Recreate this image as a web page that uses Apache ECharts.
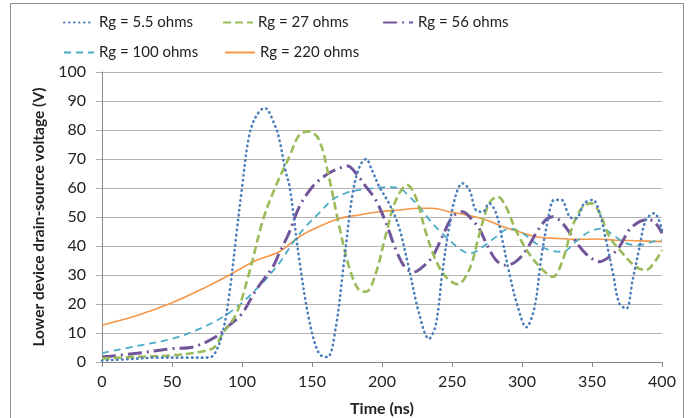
<!DOCTYPE html>
<html><head><meta charset="utf-8">
<script src="https://cdn.jsdelivr.net/npm/echarts@6/dist/echarts.min.js"></script>
<style>html,body{margin:0;padding:0;background:#fff}#c{width:693px;height:418px}</style>
</head><body><div id="c"></div>
<script>
var seriesNames = ['Rg = 5.5 ohms','Rg = 27 ohms','Rg = 56 ohms','Rg = 100 ohms','Rg = 220 ohms'];
var xTicks = [0,50,100,150,200,250,300,350,400];
var yTicks = [0,10,20,30,40,50,60,70,80,90,100];

var t55 = [0,20,40,60,75,80,86,91,96,100,105,110,116,124,127,131,134,141,148,155,161,167,173,179,184,188.5,193,198,205,212,219,226.5,233.5,238.5,243,248,253,257.5,262.5,267,272,276.5,281.5,286,291,297,303,309,313.5,318.5,323,328,334,338.5,344.5,350.5,355.5,360,365,369.5,374.5,379,384,388.5,394.5,400];
var v55 = [0.5,1,1.5,1.5,1.5,2.5,9.8,23.6,44,60,77.8,84.7,87.6,81,76,66,60.5,35,14.4,2.9,1.7,12,35,58,67.4,70,66,60.5,54.7,46.7,32.8,16.7,8,13,30.5,46.7,58,61.6,59.3,52.4,51.8,54.7,51.3,42,30.5,19,12,19,35,49,55.9,55.9,50.1,49.5,54.7,55.9,51.3,42,30.5,20.2,18.4,28.2,39.7,49,51.3,45.5];

var t27 = [0,25,50,70,80,86,96,105,115,124,134,141,148,155,162,169.5,176.5,183.5,188.5,195.5,203,210,218,224,231.5,238.5,245.5,254,262.5,269.5,276.5,282.5,288.5,295.5,305,315,322,329,336,343.5,349.5,355.5,362.5,372,381.5,388.5,395.5,400];
var v27 = [1.2,1.8,2.3,3.5,5,9.6,16.7,30.5,49,60.5,71,78.3,79.5,76.6,64,46.7,32.8,24.8,24.2,30.5,44.4,55.9,61,57,44.4,35,29.4,26.8,32,44,54.7,57,53.6,45.5,37.4,31.7,29.4,35,46.7,53.6,54.7,51.3,43.2,37.4,32.8,31.7,35,38.6];

var t56 = [0,25,50,65,81,91,100,110,122,126.5,133.5,141,150.5,160,169.5,175.5,181.5,188.5,195.5,203,210,217,223,229,236,243,250.5,257.5,264.5,270,274.5,281.5,288.5,295.5,303,310,317,322,329,336,345.5,355.5,362.5,369.5,376.5,384,391,395.5,400];
var v56 = [1.7,3,4.6,5.2,8.6,12.7,16.7,24.8,32.8,37.4,44.4,53.6,60.5,64.5,66.8,67.6,65,60.5,55.9,47.8,38.6,32.3,31.1,32.8,36.3,43.2,50.1,51.8,49,45.5,40.9,35.1,33.4,34.6,38.6,44.4,49,50.1,47.8,43.2,37.4,34.6,36.3,39.7,45.5,48.4,49,47.8,44.4];

var t100 = [0,25,50,70,91,110,126.5,136,145.5,155,164.5,174,183.5,193.5,203,212.5,219.5,226.5,236,245.5,255,262.5,272,281.5,291,300.5,310,319.5,329,338.5,348,357.5,365,374.5,384,393.5,400];
var v100 = [3.1,5.5,8,11.5,17,25,34,40.9,46.7,51.3,55.9,58.2,59.3,59.9,60.3,59.9,57,53.6,47.8,43.2,39.2,37.4,39.7,43.2,46,44.4,40.9,38.6,38,41.5,44.9,46,43.8,40.9,40.3,41.5,42];

var t220 = [0,25,50,75,91,110,126.5,141,155,169.5,183.5,198,212.5,226.5,236,248,260,274.5,286,298,310,324.5,338.5,353,367,381.5,400];
var v220 = [12.7,16,20.4,26,30,35,38,43.2,46.7,49.5,50.7,51.8,52.4,53,53,51.8,50.7,49,46.7,44.9,43.2,42.6,42.3,42.4,42,41.8,41.5];

function zip(a,b){return a.map(function(x,i){return [x,b[i]];});}
var allT=[t55,t27,t56,t100,t220], allV=[v55,v27,v56,v100,v220];
var colors=['#4a7ebb','#9bbb59','#71559b','#4bacc6','#f79646'];
var styles=[
 {width:2.6,type:[0.5,4.5],cap:'round'},
 {width:2.6,type:[8,4]},
 {width:3,type:[14,5,2,5]},
 {width:1.8,type:[7,5]},
 {width:1.6,type:'solid'}
];
var FONT='Lato';
var series=seriesNames.map(function(n,i){
  return {name:n,type:'line',data:zip(allT[i],allV[i]),smooth:0.35,symbol:'none',
    lineStyle:Object.assign({color:colors[i]},styles[i]),itemStyle:{color:colors[i]},z:10-i};
});
var legPos=[[63,15],[222,15],[382,15],[63,45],[224,45]];
var legends=seriesNames.map(function(n,i){
  return {data:[n],left:legPos[i][0],top:legPos[i][1],itemWidth:30,itemHeight:14,itemGap:4,padding:0,
    itemStyle:{opacity:0},
    textStyle:{fontFamily:FONT,fontSize:15,color:'#222'},selectedMode:false};
});
var chart=echarts.init(document.getElementById('c'),null,{renderer:'canvas'});
chart.setOption({
  animation:false,
  backgroundColor:'#fff',
  legend:legends,
  graphic:[{type:'rect',shape:{x:10.5,y:3.5,width:673,height:430},style:{fill:'none',stroke:'#8f8f8f',lineWidth:1},silent:true}],
  grid:{left:102,right:31,top:72,bottom:56,containLabel:false,outerBoundsMode:'none'},
  xAxis:{type:'value',min:0,max:400,interval:50,
    name:'Time (ns)',nameLocation:'middle',nameGap:39,
    nameTextStyle:{fontFamily:FONT,fontSize:16,fontWeight:'bold',color:'#222'},
    axisLine:{show:true,lineStyle:{color:'#8a8a8a',width:1}},
    axisTick:{show:true,length:5,lineStyle:{color:'#8a8a8a'}},
    axisLabel:{fontFamily:FONT,fontSize:16,color:'#222',margin:12,
      formatter:function(v){return xTicks.indexOf(v)>=0?String(v):'';}},
    splitLine:{show:false}},
  yAxis:{type:'value',min:0,max:100,interval:10,
    name:'Lower device drain-source voltage (V)',nameLocation:'middle',nameGap:52,
    nameTextStyle:{fontFamily:FONT,fontSize:15.5,fontWeight:'bold',color:'#222'},
    axisLine:{show:true,lineStyle:{color:'#8a8a8a',width:1}},
    axisTick:{show:true,length:6,lineStyle:{color:'#aaaaaa'}},
    axisLabel:{fontFamily:FONT,fontSize:16,color:'#222',margin:16,
      formatter:function(v){return yTicks.indexOf(v)>=0?String(v):'';}},
    splitLine:{show:true,lineStyle:{color:'#b3b3b3',width:1}}},
  series:series
});
</script></body></html>
